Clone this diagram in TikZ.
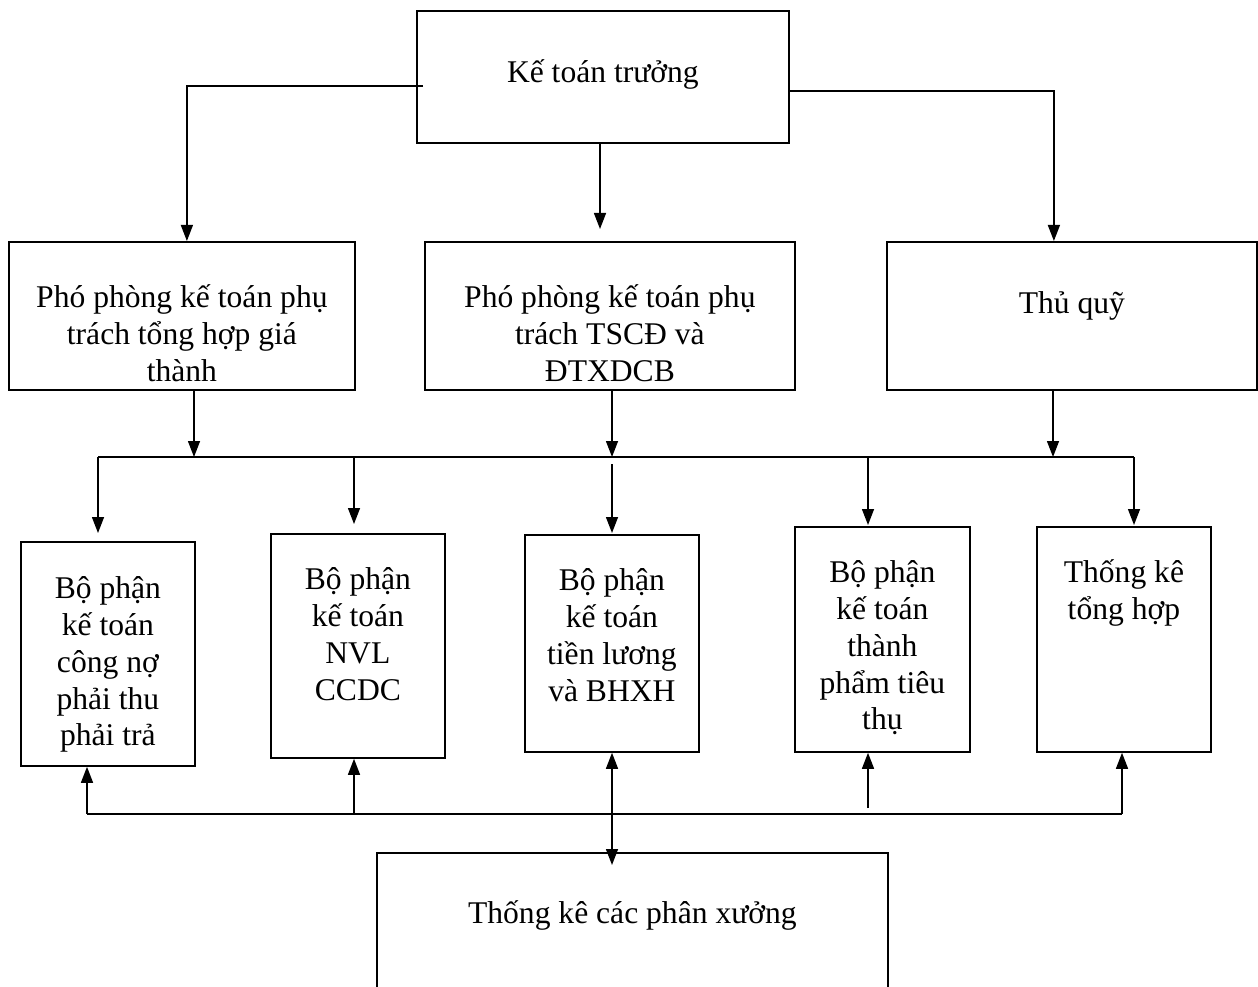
\documentclass[tikz,border=0pt]{standalone}
\usepackage{fontspec}
\setmainfont{Liberation Serif}
\usetikzlibrary{arrows.meta}
\begin{document}
\begin{tikzpicture}[x=1pt, y=-1pt, line width=1.4pt, ->, >={Triangle[length=16pt,width=12pt]},
  every node/.style={font=\fontsize{31.6}{36.7}\selectfont},
  dept/.style={draw, line width=1.8pt, inner sep=0pt, anchor=north west, align=flush center}]
\useasboundingbox (0,0) rectangle (1258,987);

% Ke toan truong
\node[dept, text width=372pt, text height=72pt, text depth=60pt] (ktt) at (416,10) {Kế toán trưởng};

% Pho phong, thu quy
\node[dept, text width=346pt, text height=66pt, text depth=82pt] (ppa) at (8,241) {Phó phòng kế toán phụ\\trách tổng hợp giá\\thành};
\node[dept, text width=370pt, text height=66pt, text depth=82pt] (ppb) at (424,241) {Phó phòng kế toán phụ\\trách TSCĐ và\\ĐTXDCB};
\node[dept, text width=370pt, text height=72pt, text depth=76pt] (tq) at (886,241) {Thủ quỹ};

\draw ([xshift=7pt,yshift=-9pt]ktt.west) -| ([xshift=5pt]ppa.north);
\draw ([yshift=-14pt]ktt.east) -| ([xshift=-18pt]tq.north);
\coordinate (m1) at (600,229);
\draw (m1 |- ktt.south) -- (m1);

% Bo phan
\node[dept, text width=174pt, text height=57pt, text depth=167pt] (bp1) at (20,541) {Bộ phận\\kế toán\\công nợ\\phải thu\\phải trả};
\node[dept, text width=174pt, text height=56pt, text depth=168pt] (bp2) at (270,533) {Bộ phận\\kế toán\\NVL\\CCDC};
\node[dept, text width=174pt, text height=56pt, text depth=161pt] (bp3) at (524,534) {Bộ phận\\kế toán\\tiền lương\\và BHXH};
\node[dept, text width=175pt, text height=56pt, text depth=169pt] (bp4) at (794,526) {Bộ phận\\kế toán\\thành\\phẩm tiêu\\thụ};
\node[dept, text width=174pt, text height=56pt, text depth=169pt] (bp5) at (1036,526) {Thống kê\\tổng hợp};

% Upper bus
\coordinate (u1) at (194,457);
\coordinate (u2) at (612,457);
\coordinate (u3) at (1053,457);
\draw (u1 |- ppa.south) -- (u1);
\draw (u2 |- ppb.south) -- (u2);
\draw (u3 |- tq.south) -- (u3);

\coordinate (d1) at (98,457);
\coordinate (d2) at (354,457);
\coordinate (d3) at (612,464);
\coordinate (d4) at (868,457);
\coordinate (d5) at (1134,457);
\draw[-] (d1) -- (d5);
\draw[shorten >=8pt] (d1) -- (d1 |- bp1.north);
\draw[shorten >=9pt] (d2) -- (d2 |- bp2.north);
\draw[shorten >=1pt] (d3) -- (d3 |- bp3.north);
\draw[shorten >=1pt] (d4) -- (d4 |- bp4.north);
\draw[shorten >=1pt] (d5) -- (d5 |- bp5.north);

% Thong ke cac phan xuong
\node[dept, text width=511pt, text height=71pt, text depth=107pt] (tkx) at (376,852) {Thống kê các phân xưởng};

% Lower bus
\coordinate (l1) at (87,814);
\coordinate (l2) at (354,814);
\coordinate (l3) at (612,814);
\coordinate (l4) at (868,808);
\coordinate (l5) at (1122,814);
\draw[-] (l1) -- (l5);
\draw (l1) -- (l1 |- bp1.south);
\draw (l2) -- (l2 |- bp2.south);
\draw[<->, shorten >=-13pt] (l3 |- bp3.south) -- (l3 |- tkx.north);
\draw (l4) -- (l4 |- bp4.south);
\draw (l5) -- (l5 |- bp5.south);

\end{tikzpicture}
\end{document}
